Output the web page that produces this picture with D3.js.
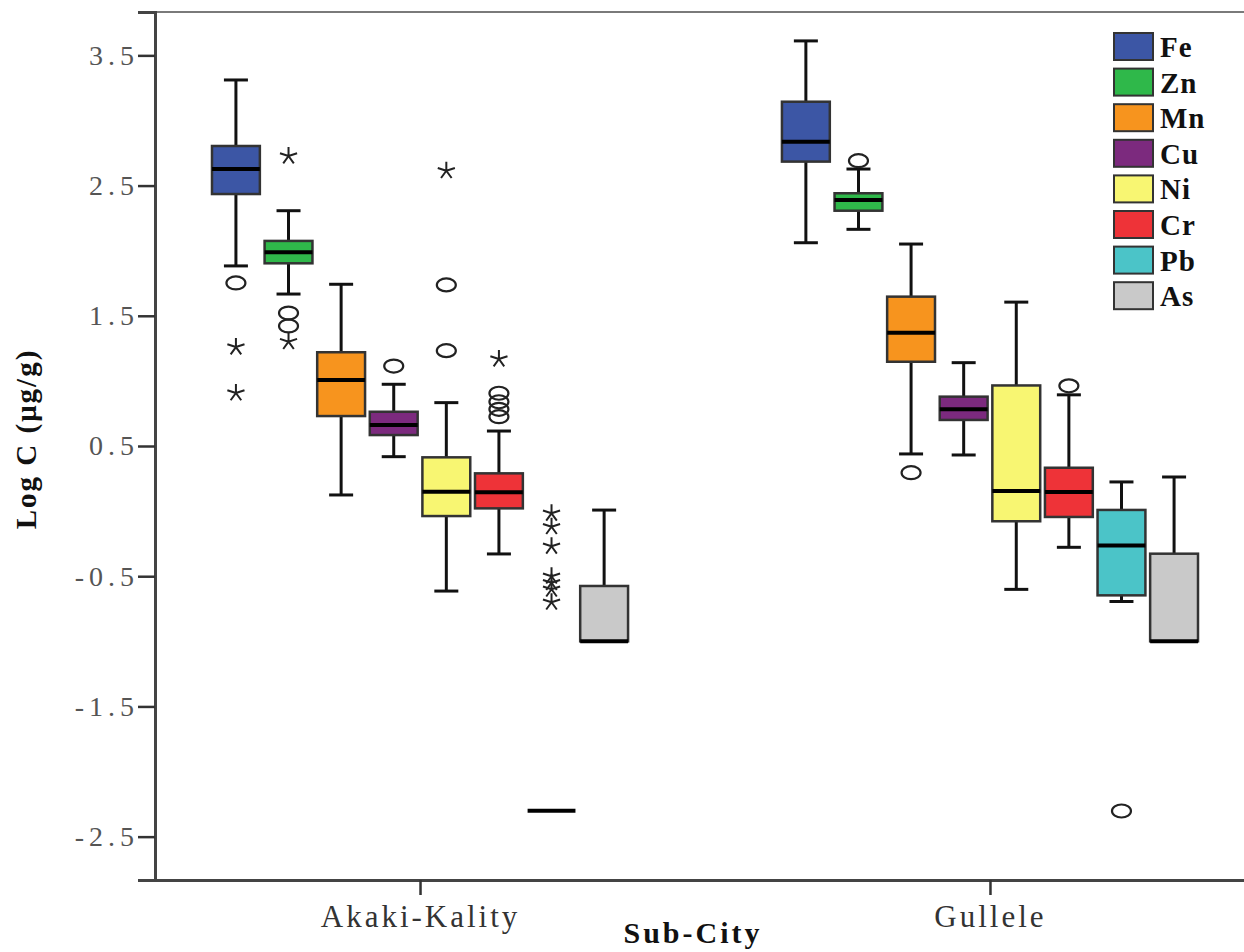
<!DOCTYPE html>
<html>
<head>
<meta charset="utf-8">
<script src="https://cdn.jsdelivr.net/npm/d3@7"></script>
<style>
  html, body { margin: 0; padding: 0; background: #fff; }
  svg { display: block; }
</style>
</head>
<body>
<svg id="chart" width="1244" height="952"></svg>
<script>
// ---------------- DATA ----------------
const subCities = ["Akaki-Kality", "Gullele"];
const metals = ["Fe", "Zn", "Mn", "Cu", "Ni", "Cr", "Pb", "As"];
const metalColors = ["#3c56a5", "#2fb84a", "#f7941e", "#7c2a7e", "#f8f672", "#ee3338", "#4bc4c8", "#c9c9c9"];
const yTicks = [3.5, 2.5, 1.5, 0.5, -0.5, -1.5, -2.5];

// Akaki-Kality box statistics (order follows metals)
const akakiLow  = [1.883, 1.667, 0.124, 0.418, -0.614, -0.329, -2.301, -1.000];
const akakiQ1   = [2.435, 1.903, 0.730, 0.584, -0.038,  0.021, -2.301, -1.000];
const akakiMed  = [2.627, 1.988, 1.007, 0.661,  0.148,  0.144, -2.301, -1.000];
const akakiQ3   = [2.804, 2.075, 1.220, 0.763,  0.413,  0.290, -2.301, -0.575];
const akakiHigh = [3.311, 2.307, 1.742, 0.974,  0.833,  0.615, -2.301,  0.008];

// Gullele box statistics
const gulleleLow  = [2.061, 2.164, 0.439, 0.431, -0.601, -0.278, -0.694, -1.000];
const gulleleQ1   = [2.684, 2.307, 1.147, 0.700, -0.078, -0.045, -0.647, -1.000];
const gulleleMed  = [2.837, 2.389, 1.370, 0.782,  0.154,  0.147, -0.264, -1.000];
const gulleleQ3   = [3.144, 2.441, 1.647, 0.879,  0.965,  0.333,  0.009, -0.327];
const gulleleHigh = [3.611, 2.627, 2.051, 1.140,  1.605,  0.893,  0.224,  0.262];

// Outliers: [metal, value, kind] (kind "o" = circle, "*" = extreme)
const akakiOutliers = [
  ["Fe", 1.752, "o"], ["Fe", 1.260, "*"], ["Fe", 0.907, "*"],
  ["Zn", 2.727, "*"], ["Zn", 1.521, "o"], ["Zn", 1.422, "o"], ["Zn", 1.301, "*"],
  ["Cu", 1.114, "o"],
  ["Ni", 2.614, "*"], ["Ni", 1.737, "o"], ["Ni", 1.232, "o"],
  ["Cr", 1.168, "*"], ["Cr", 0.905, "o"], ["Cr", 0.840, "o"], ["Cr", 0.782, "o"], ["Cr", 0.725, "o"],
  ["Pb", -0.017, "*"], ["Pb", -0.120, "*"], ["Pb", -0.270, "*"], ["Pb", -0.500, "*"],
  ["Pb", -0.550, "*"], ["Pb", -0.600, "*"], ["Pb", -0.700, "*"]
];
const gulleleOutliers = [
  ["Zn", 2.691, "o"], ["Mn", 0.295, "o"], ["Cr", 0.962, "o"], ["Pb", -2.303, "o"]
];

// ---------------- BUILD ----------------
function buildStats(low, q1, med, q3, high) {
  return metals.map((m, i) => ({ metal: m, low: low[i], q1: q1[i], med: med[i], q3: q3[i], high: high[i] }));
}
const groups = [
  { city: subCities[0], stats: buildStats(akakiLow, akakiQ1, akakiMed, akakiQ3, akakiHigh), outliers: akakiOutliers },
  { city: subCities[1], stats: buildStats(gulleleLow, gulleleQ1, gulleleMed, gulleleQ3, gulleleHigh), outliers: gulleleOutliers }
];

const svg = d3.select("#chart");
const plot = { left: 155, top: 12, right: 1255, bottom: 880 };

const y = d3.scaleLinear().domain([-2.833, 3.833]).range([plot.bottom, plot.top]);
const x = d3.scalePoint().domain(subCities).range([plot.left, plot.right]).padding(0.465);
const xi = d3.scaleBand().domain(metals).range([-210.4, 210.4]).paddingInner(0.09).paddingOuter(0.045);
const color = d3.scaleOrdinal().domain(metals).range(metalColors);
const bw = xi.bandwidth();

// frame
svg.append("rect")
  .attr("x", plot.left).attr("y", plot.top)
  .attr("width", plot.right - plot.left).attr("height", plot.bottom - plot.top)
  .attr("fill", "none").attr("stroke", "#7a7a7a").attr("stroke-width", 2);

// Y axis
const yAxis = svg.append("g").attr("transform", `translate(${plot.left},0)`)
  .call(d3.axisLeft(y).tickValues(yTicks).tickSize(17).tickFormat(d3.format(".1f")));
yAxis.select(".domain").attr("stroke", "#444").attr("stroke-width", 3);
yAxis.selectAll(".tick line").attr("stroke", "#333").attr("stroke-width", 2.5);
yAxis.selectAll(".tick text")
  .attr("x", -16)
  .attr("font-family", "Liberation Serif, serif").attr("font-size", 28)
  .attr("fill", "#555").attr("letter-spacing", "5px")
  .text(d => (d < 0 ? "-" : "") + d3.format(".1f")(Math.abs(d)));

// X axis
const xAxis = svg.append("g").attr("transform", `translate(0,${plot.bottom})`)
  .call(d3.axisBottom(x).tickSize(15).tickSizeOuter(0));
xAxis.select(".domain").attr("stroke", "#444").attr("stroke-width", 3);
xAxis.selectAll(".tick line").attr("stroke", "#333").attr("stroke-width", 2.5);
xAxis.selectAll(".tick text")
  .attr("y", 25)
  .attr("font-family", "Liberation Serif, serif").attr("font-size", 31)
  .attr("letter-spacing", "3px")
  .attr("fill", "#333");

// Axis titles
svg.append("text")
  .attr("x", (plot.left + plot.right) / 2 - 12).attr("y", 943)
  .attr("text-anchor", "middle")
  .attr("font-family", "Liberation Serif, serif").attr("font-weight", "bold")
  .attr("font-size", 30).attr("fill", "#111").attr("letter-spacing", "3px")
  .text("Sub-City");
svg.append("text")
  .attr("transform", "translate(36,439) rotate(-90)")
  .attr("text-anchor", "middle")
  .attr("font-family", "Liberation Serif, serif").attr("font-weight", "bold")
  .attr("font-size", 29).attr("fill", "#111").attr("letter-spacing", "2px")
  .text("Log C (μg/g)");

// Boxes
const starPath = r => {
  let p = "";
  for (let k = 0; k < 5; k++) {
    const a = (-90 + 72 * k) * Math.PI / 180;
    p += `M0,0L${(r * Math.cos(a)).toFixed(2)},${(r * Math.sin(a)).toFixed(2)}`;
  }
  return p;
};

groups.forEach(g => {
  const gx = x(g.city);
  const grp = svg.append("g").attr("transform", `translate(${gx},0)`);
  const boxes = grp.selectAll("g.box").data(g.stats).join("g").attr("class", "box")
    .attr("transform", d => `translate(${xi(d.metal)},0)`);

  // whiskers
  boxes.append("line")
    .attr("x1", bw / 2).attr("x2", bw / 2)
    .attr("y1", d => y(d.high)).attr("y2", d => y(d.low))
    .attr("stroke", "#111").attr("stroke-width", 3);
  boxes.filter(d => d.high > d.q3).append("line")
    .attr("x1", bw / 2 - 12).attr("x2", bw / 2 + 12)
    .attr("y1", d => y(d.high)).attr("y2", d => y(d.high))
    .attr("stroke", "#111").attr("stroke-width", 3);
  boxes.filter(d => d.low < d.q1).append("line")
    .attr("x1", bw / 2 - 12).attr("x2", bw / 2 + 12)
    .attr("y1", d => y(d.low)).attr("y2", d => y(d.low))
    .attr("stroke", "#111").attr("stroke-width", 3);

  // box body
  boxes.filter(d => d.q3 > d.q1).append("rect")
    .attr("x", 0).attr("width", bw)
    .attr("y", d => y(d.q3)).attr("height", d => y(d.q1) - y(d.q3))
    .attr("fill", d => color(d.metal))
    .attr("stroke", "#333").attr("stroke-width", 2.5);

  // median
  boxes.append("line")
    .attr("x1", 0).attr("x2", bw)
    .attr("y1", d => y(d.med)).attr("y2", d => y(d.med))
    .attr("stroke", "#000").attr("stroke-width", 4);

  // outliers
  g.outliers.forEach(([m, v, kind]) => {
    const cx = xi(m) + bw / 2;
    if (kind === "o") {
      grp.append("ellipse").attr("cx", cx).attr("cy", y(v))
        .attr("rx", 9.5).attr("ry", 6.5)
        .attr("fill", "none").attr("stroke", "#222").attr("stroke-width", 2.2);
    } else {
      grp.append("path").attr("transform", `translate(${cx},${y(v)})`)
        .attr("d", starPath(9))
        .attr("fill", "none").attr("stroke", "#222").attr("stroke-width", 2);
    }
  });
});

// Legend
const ly = d3.scaleBand().domain(metals).range([29, 29 + 8 * 35.6]);
const leg = svg.append("g");
const items = leg.selectAll("g").data(metals).join("g")
  .attr("transform", d => `translate(1114,${ly(d) + 4})`);
items.append("rect").attr("width", 39).attr("height", 27)
  .attr("fill", d => color(d)).attr("stroke", "#333").attr("stroke-width", 2);
items.append("text").attr("x", 46).attr("y", 24)
  .attr("font-family", "Liberation Serif, serif").attr("font-weight", "bold")
  .attr("font-size", 29).attr("fill", "#111").attr("letter-spacing", "1px")
  .text(d => d);
</script>
</body>
</html>
